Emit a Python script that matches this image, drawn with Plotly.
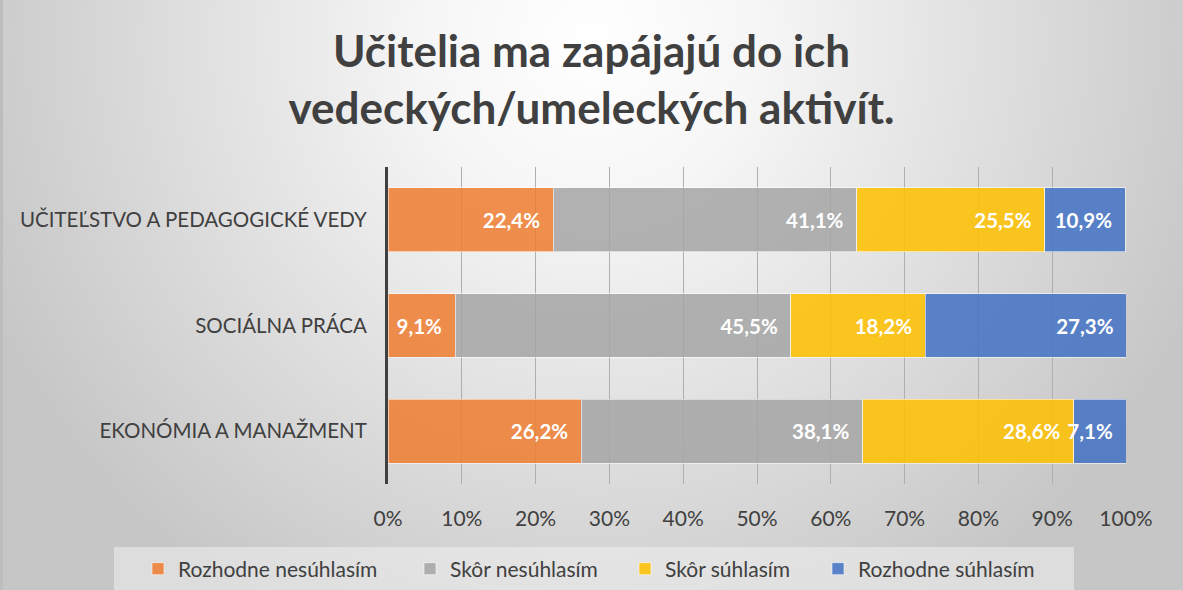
import base64
import plotly.graph_objects as go

categories = ["UČITEĽSTVO A PEDAGOGICKÉ VEDY", "SOCIÁLNA PRÁCA", "EKONÓMIA A MANAŽMENT"]
series_names = ["Rozhodne nesúhlasím", "Skôr nesúhlasím", "Skôr súhlasím", "Rozhodne súhlasím"]
rozhodne_nesuhlasim = [22.4, 9.1, 26.2]
skor_nesuhlasim = [41.1, 45.5, 38.1]
skor_suhlasim = [25.5, 18.2, 28.6]
rozhodne_suhlasim = [10.9, 27.3, 7.1]
tick_values = [0, 10, 20, 30, 40, 50, 60, 70, 80, 90, 100]
tick_labels = ["0%", "10%", "20%", "30%", "40%", "50%", "60%", "70%", "80%", "90%", "100%"]
title_text = "Učitelia ma zapájajú do ich<br>vedeckých/umeleckých aktivít."

colors = ["rgba(237,125,49,0.86)", "rgba(165,165,165,0.86)", "rgba(255,192,0,0.86)", "rgba(68,114,196,0.86)"]
FONT = "Lato"

W, H = 1183, 590
L, R, T, B = 388, 57, 167, 106
PW, PH = W - L - R, H - T - B

# pixel x of each legend symbol centre in the picture
legend_marker_px = [158, 430, 645, 838]

svg = f'''<svg xmlns="http://www.w3.org/2000/svg" width="{W}" height="{H}" viewBox="0 0 {W} {H}" preserveAspectRatio="none">
<defs><radialGradient id="g" gradientUnits="userSpaceOnUse" cx="592" cy="40" r="660">
<stop offset="0" stop-color="#ffffff"/><stop offset="0.25" stop-color="#f6f6f6"/><stop offset="1" stop-color="#c6c6c6"/>
</radialGradient></defs>
<rect x="0" y="0" width="{W}" height="{H}" fill="url(#g)"/>
<rect x="1.5" y="-2" width="{W+4}" height="{H+4}" fill="none" stroke="#bdbdbd" stroke-width="3"/>
</svg>'''
bg_src = "data:image/svg+xml;base64," + base64.b64encode(svg.encode("utf-8")).decode("ascii")


def fmt(v):
    return f"{v:.1f}".replace(".", ",") + "%"


def px_to_paper_x(px):
    return (px - L) / PW


def px_to_paper_y(py):
    return (H - B - py) / PH


fig = go.Figure()
legend_keys = ["legend", "legend2", "legend3", "legend4"]
for name, vals, col, lk in zip(series_names,
                               [rozhodne_nesuhlasim, skor_nesuhlasim, skor_suhlasim, rozhodne_suhlasim],
                               colors, legend_keys):
    fig.add_trace(go.Bar(
        name=name, y=categories, x=vals, orientation="h",
        marker=dict(color=col, line=dict(color="rgba(255,255,255,0.55)", width=1)),
        text=[fmt(v) + "\u2009" * 4 for v in vals],
        textposition="inside", insidetextanchor="end", constraintext="none", textangle=0,
        textfont=dict(family=FONT, size=20.5, color="white", weight="bold"),
        hoverinfo="skip", legend=lk, showlegend=True,
    ))

legend_common = dict(orientation="h", xanchor="left", yanchor="middle",
                     bgcolor="rgba(0,0,0,0)", borderwidth=0,
                     font=dict(family=FONT, size=21, color="#404040"),
                     itemclick=False, itemdoubleclick=False)
legends = {}
for lk, mx in zip(legend_keys, legend_marker_px):
    legends[lk] = dict(legend_common, x=px_to_paper_x(mx - 20), y=px_to_paper_y(569))

fig.update_layout(
    width=W, height=H,
    showlegend=True,
    margin=dict(l=L, r=R, t=T, b=B, autoexpand=False),
    barmode="stack",
    bargap=0.395,
    paper_bgcolor="#d0d0d0",
    plot_bgcolor="rgba(0,0,0,0)",
    font=dict(family=FONT, color="#404040"),
    title=dict(text=title_text, x=0.5, xanchor="center", xref="container", y=1 - 67 / H, yanchor="middle",
               yref="container",
               font=dict(family=FONT, size=44, color="#404040", weight="bold")),
    xaxis=dict(range=[0, 100], tickvals=tick_values, ticktext=tick_labels,
               showgrid=True, gridcolor="#afafaf", gridwidth=1, zeroline=False,
               showline=False, ticks="", ticklabelstandoff=20,
               tickfont=dict(family=FONT, size=21, color="#404040"), fixedrange=True),
    yaxis=dict(autorange="reversed", showgrid=False, zeroline=False,
               showline=True, linecolor="#404040", linewidth=3, ticks="",
               ticklabelstandoff=14,
               tickfont=dict(family=FONT, size=20.5, color="#404040"), fixedrange=True),
    images=[dict(source=bg_src, xref="paper", yref="paper",
                 x=-L / PW, y=1 + T / PH, sizex=W / PW, sizey=H / PH,
                 xanchor="left", yanchor="top", sizing="stretch", layer="below")],
    shapes=[dict(type="rect", xref="paper", yref="paper",
                 x0=px_to_paper_x(114), x1=px_to_paper_x(1074),
                 y0=px_to_paper_y(595), y1=px_to_paper_y(547),
                 fillcolor="rgba(240,240,240,0.55)", line=dict(width=0), layer="below")],
    **legends,
)

fig.write_html("out.html", config={"displayModeBar": False, "staticPlot": False},
               post_script="document.body.style.margin='0';document.body.style.overflow='hidden';")
